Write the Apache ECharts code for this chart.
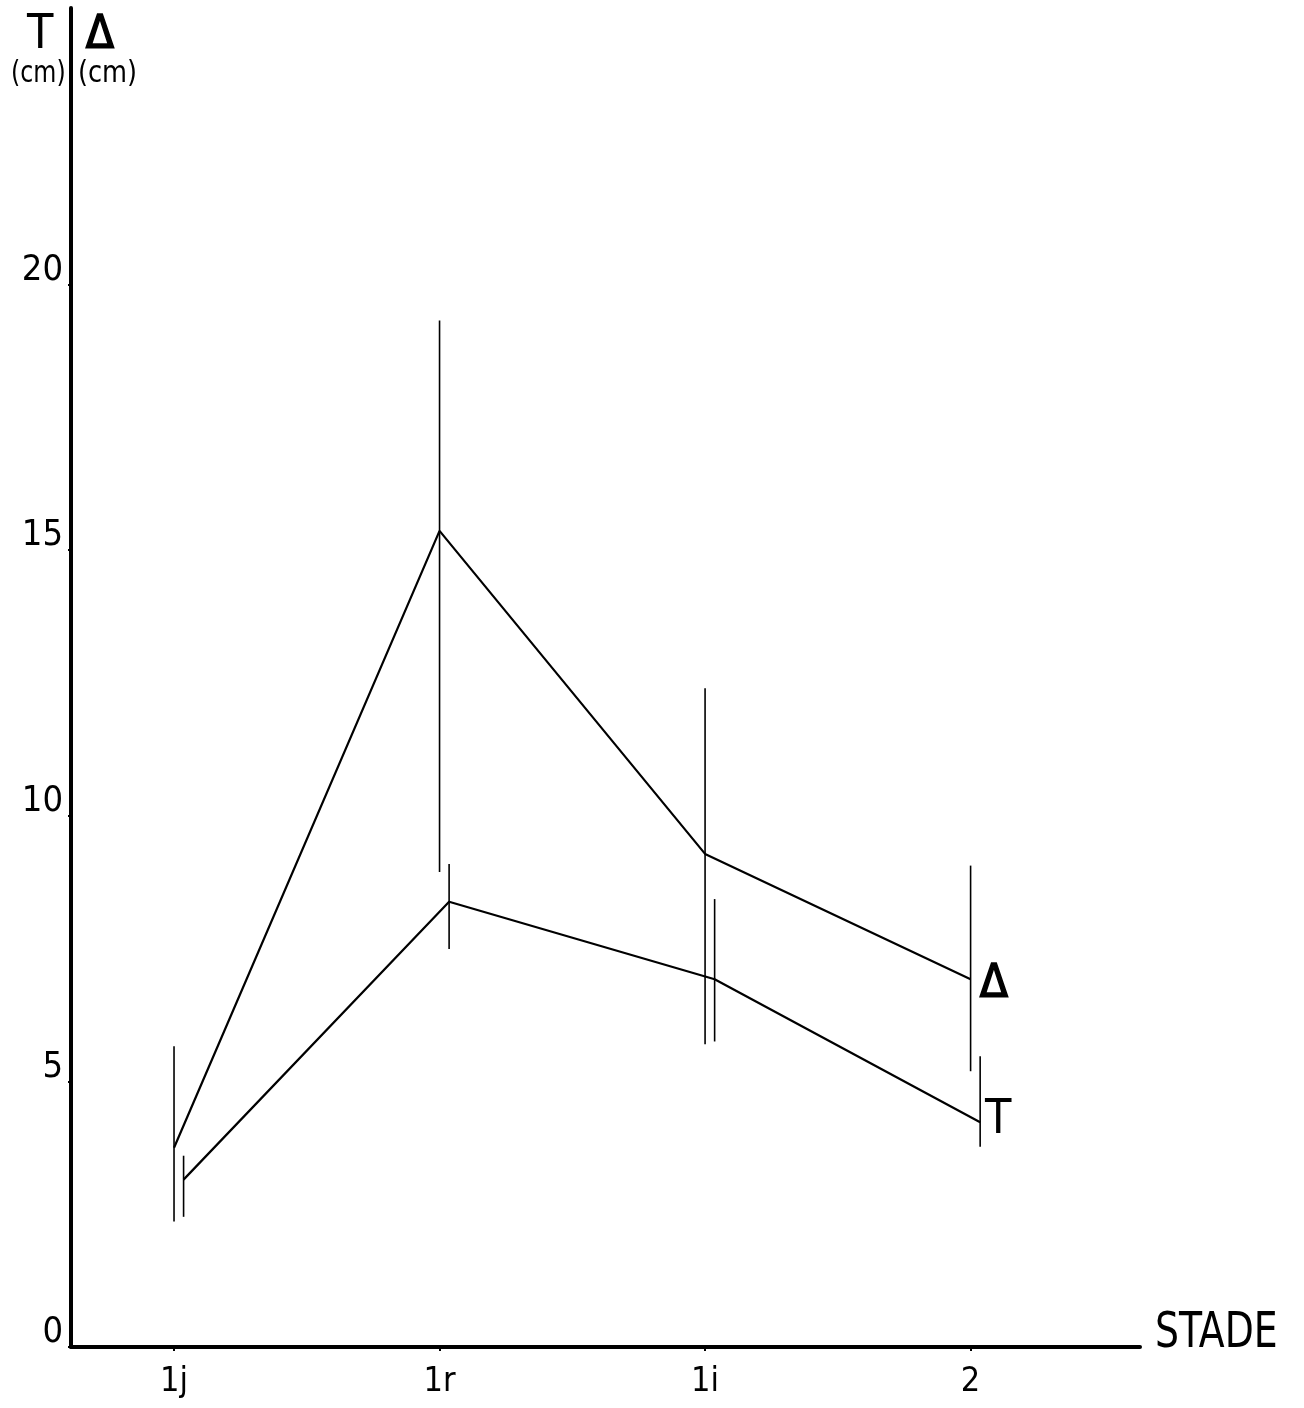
<!DOCTYPE html>
<html>
<head>
<meta charset="utf-8">
<script src="https://cdn.jsdelivr.net/npm/echarts@6/dist/echarts.min.js"></script>
<style>
html,body{margin:0;padding:0;background:#fff;}
#chart{width:1304px;height:1408px;}
</style>
</head>
<body>
<div id="chart"></div>
<script>
// ---- data ----
const stages = ['1j', '1r', '1i', '2'];
const yTicks = [0, 5, 10, 15, 20];
const deltaMean = [3.75, 15.36, 9.28, 6.92];
const deltaHigh = [5.66, 19.32, 12.40, 9.06];
const deltaLow  = [2.36, 8.94, 5.70, 5.19];
const tMean = [3.15, 8.38, 6.92, 4.23];
const tHigh = [3.60, 9.09, 8.43, 5.47];
const tLow  = [2.45, 7.49, 5.75, 3.77];

const FONT = '"DejaVu Sans Condensed","Liberation Sans Narrow","DejaVu Sans",sans-serif';
const T_OFFSET = 0.036; // small horizontal shift of the T series, as drawn in the original

const xPos = stages.map((s, i) => i + 1);
const deltaLine = xPos.map((x, i) => [x, deltaMean[i]]);
const tLine = xPos.map((x, i) => [x + T_OFFSET, tMean[i]]);
const deltaBars = xPos.map((x, i) => [x, deltaLow[i], deltaHigh[i]]);
const tBars = xPos.map((x, i) => [x + T_OFFSET, tLow[i], tHigh[i]]);

function barRender(params, api) {
  const p1 = api.coord([api.value(0), api.value(1)]);
  const p2 = api.coord([api.value(0), api.value(2)]);
  return {
    type: 'line',
    shape: { x1: p1[0], y1: p1[1], x2: p2[0], y2: p2[1] },
    style: { stroke: '#000', lineWidth: 1.6 }
  };
}

const chart = echarts.init(document.getElementById('chart'), null, { renderer: 'canvas' });
chart.setOption({
  backgroundColor: '#fff',
  animation: false,
  grid: { left: 71, right: 164, top: 8, bottom: 61 },
  xAxis: {
    type: 'value',
    min: 0.612,
    max: 4.638,
    axisLine: { lineStyle: { color: '#000', width: 4 } },
    axisTick: { show: true, customValues: xPos, length: 4, lineStyle: { color: '#000', width: 2 } },
    axisLabel: {
      customValues: xPos,
      formatter: v => stages[Math.round(v) - 1] || '',
      fontFamily: FONT, fontSize: 34, color: '#000', margin: 18
    },
    splitLine: { show: false }
  },
  yAxis: {
    type: 'value',
    min: 0,
    max: 25.2,
    axisLine: { show: true, lineStyle: { color: '#000', width: 4 } },
    axisTick: { show: true, customValues: yTicks, length: 3, lineStyle: { color: '#000', width: 2 } },
    axisLabel: {
      customValues: yTicks,
      fontFamily: FONT, fontSize: 36, color: '#000', margin: 8,
      verticalAlign: 'bottom', lineHeight: 28
    },
    splitLine: { show: false }
  },
  series: [
    { type: 'line', data: deltaLine, symbol: 'none', lineStyle: { color: '#000', width: 2.2 }, z: 3 },
    { type: 'line', data: tLine, symbol: 'none', lineStyle: { color: '#000', width: 2.2 }, z: 3 },
    { type: 'custom', data: deltaBars, renderItem: barRender, encode: { x: 0, y: [1, 2] }, z: 2 },
    { type: 'custom', data: tBars, renderItem: barRender, encode: { x: 0, y: [1, 2] }, z: 2 }
  ],
  graphic: [
    { type: 'text', left: 27, top: 12, style: { text: 'T', font: '48px ' + FONT, fill: '#000' } },
    { type: 'text', left: 85, top: 12, style: { text: 'Δ', font: '46px ' + FONT, fill: '#000', stroke: '#000', lineWidth: 1.5 } },
    { type: 'text', x: 11, y: 58, scaleX: 0.85, style: { text: '(cm)', font: '31px ' + FONT, fill: '#000', verticalAlign: 'top' } },
    { type: 'text', x: 78, y: 58, scaleX: 0.92, style: { text: '(cm)', font: '31px ' + FONT, fill: '#000', verticalAlign: 'top' } },
    { type: 'text', x: 1155, y: 1309, scaleX: 0.84, style: { text: 'STADE', font: '50px ' + FONT, fill: '#000', verticalAlign: 'top' } },
    { type: 'text', left: 979, top: 961, style: { text: 'Δ', font: '46px ' + FONT, fill: '#000', stroke: '#000', lineWidth: 1.5 } },
    { type: 'text', left: 985, top: 1097, style: { text: 'T', font: '48px ' + FONT, fill: '#000' } }
  ]
});
</script>
</body>
</html>
